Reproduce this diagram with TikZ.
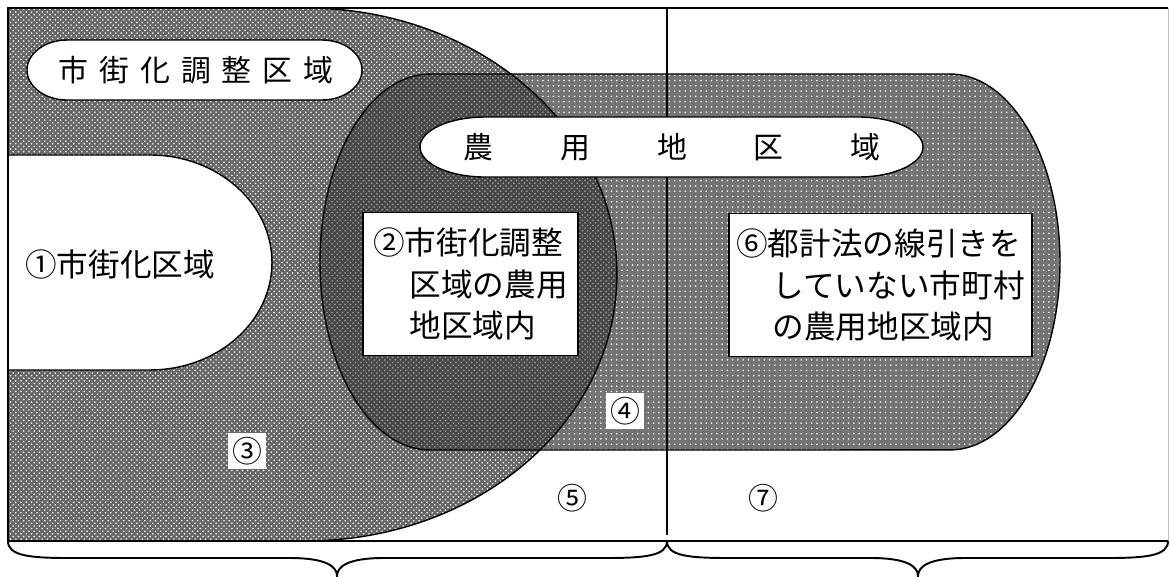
\documentclass[tikz,border=0pt]{standalone}
\usepackage{fontspec}
\newfontfamily\jpfont{Noto Sans CJK JP}
\usetikzlibrary{patterns}

\tikzset{
  chosei fill/.style={fill=black!60, postaction={pattern=crosshatch dots, pattern color=white}},
  noyo fill/.style={fill=black!55, postaction={pattern=dots, pattern color=white}},
  overlap fill/.style={fill=black!72, postaction={pattern=crosshatch dots, pattern color=black!35}},
  area line/.style={line width=0.8pt},
  oval text/.style={font=\jpfont\fontsize{17}{17}\selectfont},
  area box/.style={draw, fill=white, line width=0.9pt, align=left, minimum height=2.86cm,
                   font=\jpfont\fontsize{18}{23.5}\selectfont},
  number/.style={fill=white, inner sep=2.5pt, font=\jpfont\fontsize{17}{17}\selectfont},
}

% areas, in pixel units
\def\choseiarea{(8,8) -- (306,8) arc (90:-90:6.22cm and 5.33cm) -- (8,541) -- cycle}
\def\noyoarea{(430,74) -- (950,74) arc (90:-90:2.2cm and 3.76cm) -- (430,450) arc (270:90:2.2cm and 3.76cm) -- cycle}

\begin{document}
\begin{tikzpicture}[x=0.02cm, y=-0.02cm]
\useasboundingbox (0,0) rectangle (1170,576);

% shaded areas
\fill[chosei fill] \choseiarea;
\fill[noyo fill] \noyoarea;
\begin{scope}
  \clip \choseiarea;
  \fill[overlap fill] \noyoarea;
\end{scope}
\filldraw[fill=white, area line] (8,155) -- (150,155) arc (90:-90:2.44cm and 2.15cm) -- (8,370);

% outlines
\draw[area line] \noyoarea;
\draw[area line] (306,8) arc (90:-90:6.22cm and 5.33cm);
\draw[line width=1.1pt] (1168,8) -- (8,8) -- (8,541) -- (1168,541);
\draw[black!25] (1168,8) -- (1168,541);
\draw[line width=1pt] (667,8) -- (667,535);

% braces
\draw[line width=1.1pt] (8,541) .. controls (8,556) and (30,558) .. (70,558) -- (290,558)
  .. controls (325,558) and (337,566) .. (337,576) .. controls (337,566) and (349,558) .. (384,558)
  -- (605,558) .. controls (645,558) and (667,556) .. (667,541);
\draw[line width=1.1pt] (667,541) .. controls (667,556) and (689,558) .. (729,558) -- (871,558)
  .. controls (906,558) and (918,566) .. (918,576) .. controls (918,566) and (930,558) .. (965,558)
  -- (1106,558) .. controls (1146,558) and (1168,556) .. (1168,541);

% ovals
\filldraw[fill=white, area line] (67,40) -- (322,40) arc (90:-90:0.8cm and 0.6cm)
  -- (67,100) arc (270:90:0.8cm and 0.6cm) -- cycle;
\filldraw[fill=white, area line] (485,117) -- (858,117) arc (90:-90:1.3cm and 0.6cm)
  -- (485,177) arc (270:90:1.3cm and 0.6cm) -- cycle;

% texts
\node[oval text] (chosei) at (196,70)
  {市\hspace{6.3pt}街\hspace{6.3pt}化\hspace{6.3pt}調\hspace{6.3pt}整\hspace{6.3pt}区\hspace{6.3pt}域};
\node[oval text] (noyo) at (672,147)
  {農\hspace{38pt}用\hspace{38pt}地\hspace{38pt}区\hspace{38pt}域};
\node[font=\jpfont\fontsize{18}{18}\selectfont] (shigaika) at (120,264) {①市街化区域};
\node[area box, minimum width=4.3cm] (box2) at (470.5,284)
  {②市街化調整\\\hspace*{1.15em}区域の農用\\\hspace*{1.15em}地区域内};
\node[area box, minimum width=6.06cm] (box6) at (880.5,285)
  {⑥都計法の線引きを\\\hspace*{1.15em}していない市町村\\\hspace*{1.15em}の農用地区域内};
\node[number] (n3) at (247,451) {③};
\node[number] (n4) at (625,411) {④};
\node[number, fill=none] (n5) at (572,498) {⑤};
\node[number, fill=none] (n7) at (763,498) {⑦};
\end{tikzpicture}
\end{document}
